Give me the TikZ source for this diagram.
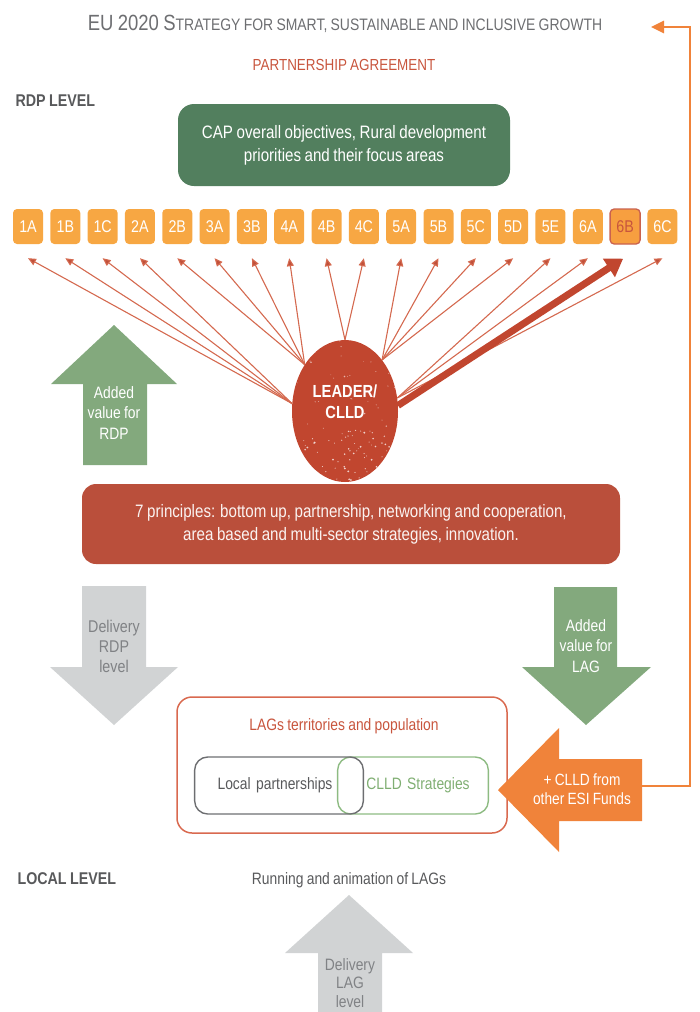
\documentclass[tikz,border=0pt]{standalone}
\usepackage{fontspec}
\setmainfont{Liberation Sans}[FakeStretch=0.84, WordSpace=0.85]
\usetikzlibrary{arrows.meta,shapes.geometric,calc}
\definecolor{titlegray}{HTML}{6D6E71}
\definecolor{darkgray}{HTML}{58595B}
\definecolor{pared}{HTML}{C8553D}
\definecolor{capgreen}{HTML}{527F5E}
\definecolor{faorange}{HTML}{F7A743}
\definecolor{leaderred}{HTML}{C1462F}
\definecolor{fanline}{HTML}{D4694F}
\definecolor{fantip}{HTML}{C0503A}
\definecolor{prinred}{HTML}{BA4F3B}
\definecolor{addgreen}{HTML}{83A97D}
\definecolor{lightgray}{HTML}{D1D3D4}
\definecolor{textgray}{HTML}{808285}
\definecolor{boxred}{HTML}{D9694F}
\definecolor{cgreen}{HTML}{8DBB82}
\definecolor{cgreentext}{HTML}{7FAE72}
\definecolor{esiorange}{HTML}{F0833A}
\tikzset{
  fabox/.style={fill=faorange, text=white, rounded corners=4pt, minimum width=30pt, minimum height=35pt, inner sep=0pt, font=\fontsize{17}{17}\selectfont},
  fasel/.style={fabox, fill=faorange!95!red, draw=leaderred!85, line width=1.3pt, text=pared},
  fan/.style={draw=fanline, line width=1.1pt, -{Triangle[length=8pt,width=7pt,fill=fantip]}, shorten >=0pt},
  wtext/.style={text=white, align=center, font=\fontsize{16.5}{20.5}\selectfont},
  gtext/.style={text=textgray, align=center, font=\fontsize{17}{20}\selectfont},
  level/.style={anchor=west, text=darkgray, font=\bfseries\fontsize{17}{17}\selectfont},
}
\begin{document}
\begin{tikzpicture}[x=1pt,y=-1pt]
\useasboundingbox (0,0) rectangle (699,1012);
% title
\node[text=titlegray, inner sep=0pt] (title) at (345,24) {{\fontsize{22}{22}\selectfont EU 2020 S}{\fontsize{16.6}{16.6}\selectfont TRATEGY FOR SMART, SUSTAINABLE AND INCLUSIVE GROWTH}};
\node[text=pared, inner sep=0pt, font=\fontsize{16}{16}\selectfont] (pa) at (344,65) {PARTNERSHIP AGREEMENT};
\node[level] (rdplevel) at (12,101) {RDP LEVEL};
% CAP box
\node[fill=capgreen, rounded corners=16pt, minimum width=332pt, minimum height=82pt, text=white, align=center, font=\fontsize{18}{23}\selectfont] (cap) at (344,145) {CAP overall objectives, Rural development\\priorities and their focus areas};
% focus areas
\foreach \lab/\st [count=\i] in {1A/fabox,1B/fabox,1C/fabox,2A/fabox,2B/fabox,3A/fabox,3B/fabox,4A/fabox,4B/fabox,4C/fabox,5A/fabox,5B/fabox,5C/fabox,5D/fabox,5E/fabox,6A/fabox,6B/fasel,6C/fabox}
  \node[\st] (fa-\lab) at ({28+(\i-1)*37.32},226.5) {\lab};
% LEADER ellipse
\node[ellipse, fill=leaderred, minimum width=106pt, minimum height=142pt, inner sep=0pt] (leader) at (345,411) {};
\coordinate (L1) at (leader.172);
\coordinate (L2) at (leader.131);
\coordinate (T) at (leader.90);
\coordinate (R1) at (leader.54);
\coordinate (R2) at (leader.14);
\coordinate (R3) at (leader.6);
\foreach \lab in {1A,1B,1C,2A} \draw[fan] (L1) -- ($(fa-\lab.south)+(0,14)$);
\foreach \lab in {2B,3A,3B,4A} \draw[fan] (L2) -- ($(fa-\lab.south)+(0,14)$);
\foreach \lab in {4B,4C} \draw[fan] (T) -- ($(fa-\lab.south)+(0,14)$);
\foreach \lab in {5A,5B,5C,5D} \draw[fan] (R1) -- ($(fa-\lab.south)+(0,14)$);
\foreach \lab in {5E,6A,6C} \draw[fan] (R2) -- ($(fa-\lab.south)+(0,14)$);
\draw[draw=leaderred, line width=7pt, -{Triangle[length=17pt,width=21pt]}] (R3) -- ($(fa-6B.south)+(-2,14)$);
% speckles
\begin{scope}
\clip (345,411) ellipse (53 and 71);
\pgfmathsetseed{7}
\foreach \k in {1,...,70} \fill[white, opacity=0.75] ({345+rand*45},{455+rand*25}) circle ({0.4+0.7*rnd});
\foreach \k in {1,...,45} \fill[white, opacity=0.6] ({345+rand*50},{395+rand*60}) circle ({0.3+0.5*rnd});
\end{scope}
\node[text=white, align=center, font=\bfseries\fontsize{17.5}{21}\selectfont] (leadertext) at ($(leader.center)+(0,-9)$) {LEADER/\\CLLD};
% added value for RDP (up green)
\fill[addgreen] (114,325) -- (177,384) -- (147,384) -- (147,465) -- (83,465) -- (83,384) -- (51,384) -- cycle;
\node[wtext] (addrdp) at (114,413) {Added\\value for\\RDP};
% principles box
\node[fill=prinred, rounded corners=14pt, minimum width=538pt, minimum height=80pt, text=white!93!pared, align=center, font=\fontsize{18}{23}\selectfont] (prin) at (351,524) {7 principles: bottom up, partnership, networking and cooperation,\\area based and multi-sector strategies, innovation.};
% delivery RDP (down gray)
\fill[lightgray] (82,586) -- (146,586) -- (146,667) -- (178,667) -- (114,725) -- (50,667) -- (82,667) -- cycle;
\node[gtext] (delrdp) at (114,646) {Delivery\\RDP\\level};
% added value for LAG (down green)
\fill[addgreen] (554,587) -- (617,587) -- (617,667) -- (651,667) -- (586,725) -- (522,667) -- (554,667) -- cycle;
\node[wtext] (addlag) at (586,646) {Added\\value for\\LAG};
% LAGs box
\node[draw=boxred, line width=1.5pt, rounded corners=15pt, minimum width=330pt, minimum height=136pt] (lags) at (342,765) {};
\node[text=pared, font=\fontsize{16.5}{16.5}\selectfont] (lagstitle) at (344,726) {LAGs territories and population};
\node[draw=cgreen, line width=1.4pt, rounded corners=13pt, minimum width=144pt, minimum height=57pt, text=cgreentext, font=\fontsize{16.5}{16.5}\selectfont, text width=144pt, align=center] (cs) at (413,785.5) {\hspace*{10pt}CLLD Strategies};
\node[draw=titlegray, line width=1.4pt, rounded corners=13pt, minimum width=162pt, minimum height=57pt, text=darkgray, font=\fontsize{16.5}{16.5}\selectfont, text width=162pt, align=center] (lp) at (279,785.5) {Local partnerships\hspace*{8pt}};
% ESI funds (left orange)
\fill[esiorange] (498,790) -- (559,728) -- (559,759) -- (642,759) -- (642,821) -- (559,821) -- (559,852) -- cycle;
\node[text=white, align=center, font=\fontsize{16.3}{19}\selectfont] (esi) at (582,789) {+ CLLD from\\other ESI Funds};
\coordinate (esiout) at (642,786);
\coordinate (titlein) at (651,27);
\draw[esiorange, line width=2.6pt, -{Triangle[length=13pt,width=12pt]}] (esiout) -- (690,786) -- (690,27) -- (titlein);
% local level
\node[level] (locallevel) at (14,879) {LOCAL LEVEL};
\node[text=darkgray, font=\fontsize{16.5}{16.5}\selectfont] (running) at (349,880) {Running and animation of LAGs};
% delivery LAG (up gray)
\fill[lightgray] (349,895) -- (413,953) -- (382,953) -- (382,1012) -- (318,1012) -- (318,953) -- (285,953) -- cycle;
\node[gtext, font=\fontsize{16.5}{18.5}\selectfont] (dellag) at (350,983) {Delivery\\LAG\\level};
\end{tikzpicture}
\end{document}
